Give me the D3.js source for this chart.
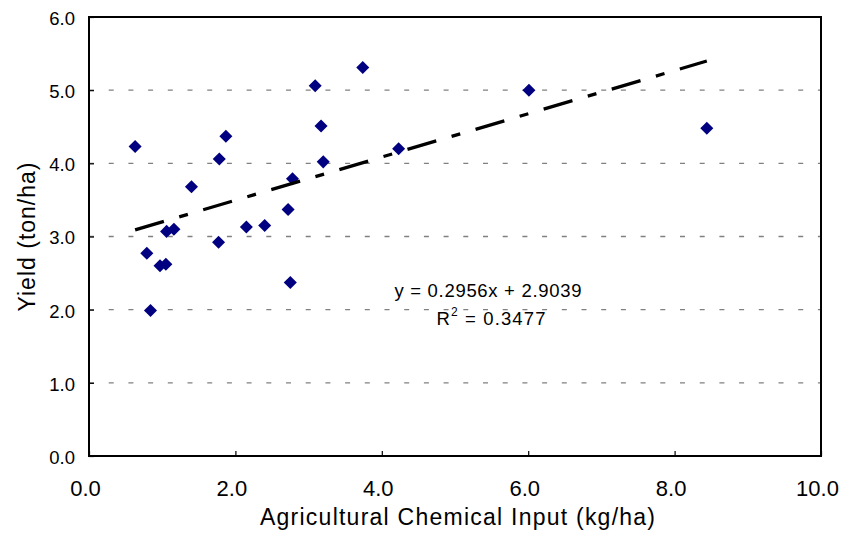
<!DOCTYPE html>
<html>
<head>
<meta charset="utf-8">
<script src="https://cdn.jsdelivr.net/npm/d3@7"></script>
<style>
  html, body { margin: 0; padding: 0; background: #fff; }
  svg { display: block; }
  text { font-family: "Liberation Sans", Arial, sans-serif; fill: #000; }
</style>
</head>
<body>
<svg id="chart" width="843" height="542"></svg>
<script>
// ---- data ----
const chemicalInput = [0.63, 0.79, 0.84, 0.97, 1.05, 1.06, 1.16, 1.40, 1.78, 1.87, 1.77, 2.15, 2.40, 2.72, 2.75, 2.78, 3.09, 3.17, 3.20, 3.74, 4.23, 6.01, 8.44];
const yieldValues   = [4.23, 2.77, 1.99, 2.60, 2.62, 3.07, 3.10, 3.68, 4.06, 4.37, 2.92, 3.13, 3.15, 3.37, 2.37, 3.79, 5.06, 4.51, 4.02, 5.31, 4.20, 5.00, 4.48];
const xTicks = [0, 2, 4, 6, 8, 10];
const yTicks = [0, 1, 2, 3, 4, 5, 6];
const trendSlope = 0.2956;
const trendIntercept = 2.9039;
const rSquared = 0.3477;
const xTitle = "Agricultural Chemical Input (kg/ha)";
const yTitle = "Yield (ton/ha)";

// ---- layout ----
const plotL = 89, plotR = 821, plotT = 17, plotB = 456;
const svg = d3.select("#chart");
svg.append("rect").attr("width", 843).attr("height", 542).attr("fill", "#fff");

const x = d3.scaleLinear().domain([0, 10]).range([plotL, plotR]);
const y = d3.scaleLinear().domain([0, 6]).range([plotB, plotT]);
const fmt = d3.format(".1f");

// gridlines
svg.append("g").selectAll("line")
  .data(yTicks.filter(t => t > 0 && t < 6))
  .join("line")
  .attr("x1", x(0)).attr("x2", x(10))
  .attr("y1", d => y(d)).attr("y2", d => y(d))
  .attr("stroke", "#808080").attr("stroke-width", 1.3)
  .attr("stroke-dasharray", "5,14.7");

// axes
const xAxis = svg.append("g").attr("transform", `translate(0,${plotB})`)
  .call(d3.axisBottom(x).tickValues(xTicks).tickFormat(fmt).tickSize(-5).tickPadding(24));
xAxis.select(".domain").remove();
xAxis.selectAll("line").attr("stroke", "#000").attr("stroke-width", 1.2);
xAxis.selectAll("text").attr("font-size", 22).attr("x", -4)
  .style("font-family", "'Liberation Sans', Arial, sans-serif");

const yAxis = svg.append("g").attr("transform", `translate(${plotL},0)`)
  .call(d3.axisLeft(y).tickValues(yTicks).tickFormat(fmt).tickSize(-5).tickPadding(14));
yAxis.select(".domain").remove();
yAxis.selectAll("line").attr("stroke", "#000").attr("stroke-width", 1.2);
yAxis.selectAll("text").attr("font-size", 18.5).attr("dy", "0.4em")
  .style("font-family", "'Liberation Sans', Arial, sans-serif");

// plot border
svg.append("rect")
  .attr("x", plotL).attr("y", plotT)
  .attr("width", plotR - plotL).attr("height", plotB - plotT)
  .attr("fill", "none").attr("stroke", "#000").attr("stroke-width", 2);

// points
const pts = chemicalInput.map((v, i) => ({ x: v, y: yieldValues[i] }));
const diamond = d3.symbol().type(d3.symbolSquare).size(85);
svg.append("g").selectAll("path")
  .data(pts)
  .join("path")
  .attr("d", diamond)
  .attr("transform", d => `translate(${x(d.x)},${y(d.y)}) rotate(45)`)
  .attr("fill", "#000080");

// trend line
const xMin = d3.min(chemicalInput), xMax = d3.max(chemicalInput);
const trend = [xMin, xMax].map(v => ({ x: v, y: trendSlope * v + trendIntercept }));
svg.append("path")
  .datum(trend)
  .attr("d", d3.line().x(d => x(d.x)).y(d => y(d.y)))
  .attr("fill", "none").attr("stroke", "#000").attr("stroke-width", 3.3)
  .attr("stroke-dasharray", "30,16,9,16");

// equation labels
svg.append("text")
  .attr("x", 488).attr("y", 296.5)
  .attr("text-anchor", "middle").attr("font-size", 18.5)
  .attr("textLength", 187).attr("lengthAdjust", "spacing")
  .text(`y = ${trendSlope}x + ${trendIntercept}`);

const r2 = svg.append("text")
  .attr("x", 491).attr("y", 325)
  .attr("text-anchor", "middle").attr("font-size", 18.5)
  .attr("textLength", 109).attr("lengthAdjust", "spacing");
r2.append("tspan").text("R");
r2.append("tspan").attr("font-size", 12).attr("dy", -9).text("2");
r2.append("tspan").attr("dy", 9).text(` = ${rSquared}`);

// axis titles
svg.append("text")
  .attr("x", 457.5).attr("y", 525)
  .attr("text-anchor", "middle").attr("font-size", 23)
  .attr("textLength", 395).attr("lengthAdjust", "spacing")
  .text(xTitle);

svg.append("text")
  .attr("transform", "translate(35,237) rotate(-90)")
  .attr("text-anchor", "middle").attr("font-size", 23)
  .attr("textLength", 149).attr("lengthAdjust", "spacing")
  .text(yTitle);
</script>
</body>
</html>
